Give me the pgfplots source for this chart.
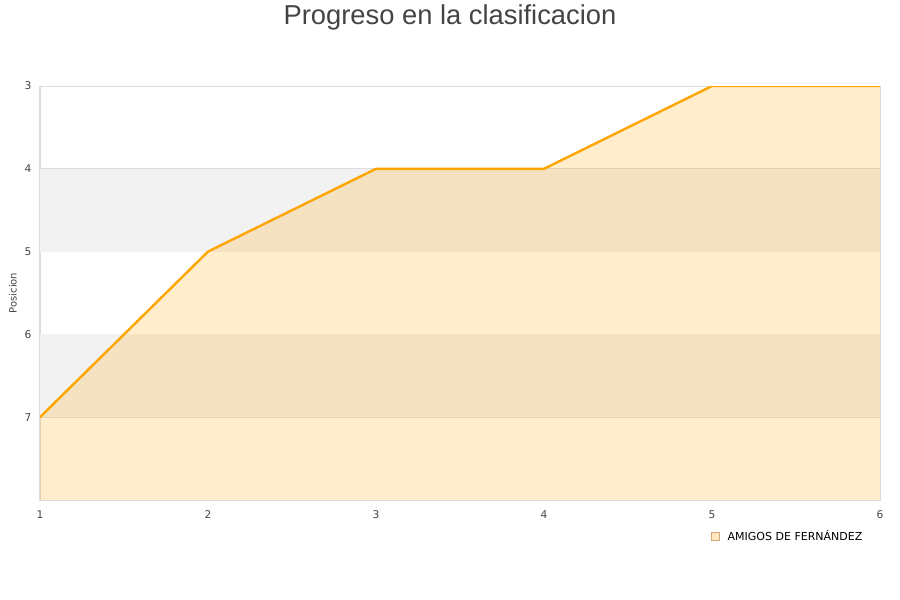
\documentclass[border=0pt]{standalone}
\usepackage{fontspec}
\setmainfont{DejaVu Sans}
\newfontfamily\titlefont{Liberation Sans}
\usepackage{pgfplots}
\pgfplotsset{compat=1.18}
\definecolor{gridc}{HTML}{DDDDDD}
\definecolor{bandc}{HTML}{F2F2F2}
\definecolor{linec}{HTML}{FFA500}
\definecolor{txt}{HTML}{444444}
\begin{document}
\begin{tikzpicture}
\path[use as bounding box] (0pt,0pt) rectangle (675pt,450pt);
\node[text=txt,font=\titlefont\fontsize{20.5}{23}\selectfont] at (337.5pt,437pt) {Progreso en la clasificacion};
\begin{axis}[
  at={(30pt,75pt)}, anchor=south west,
  scale only axis, width=630pt, height=310.5pt,
  xmin=1, xmax=6, ymin=3, ymax=8, y dir=reverse,
  xtick={1,2,3,4,5,6}, ytick={3,4,5,6,7},
  /pgf/number format/assume math mode=true,
  tick label style={font=\fontsize{8}{9}\selectfont, text=txt},
  xticklabel style={yshift=-4.5pt},
  yticklabel style={xshift=-3pt},
  major tick length=0pt,
  ymajorgrids, grid style={gridc, line width=0.75pt},
  axis line style={gridc, line width=0.75pt},
  ylabel={Posicion}, ylabel style={font=\fontsize{7.5}{9}\selectfont, text=txt, yshift=-1pt},
  legend style={at={(1,0)}, anchor=north east, xshift=-8pt, yshift=-18.5pt, draw=none, fill=none, font=\fontsize{8.25}{10}\selectfont},
  legend cell align=left,
]
\addplot[fill=bandc, draw=none, forget plot] coordinates {(1,4)(6,4)(6,5)(1,5)} -- cycle;
\addplot[fill=bandc, draw=none, forget plot] coordinates {(1,6)(6,6)(6,7)(1,7)} -- cycle;
\addplot[fill=linec, fill opacity=0.2, draw=none, forget plot] coordinates {(1,7)(2,5)(3,4)(4,4)(5,3)(6,3)(6,8)(1,8)} -- cycle;
\addplot[linec, line width=1.8pt, forget plot] coordinates {(1,7)(2,5)(3,4)(4,4)(5,3)(6,3)};
\addlegendimage{only marks, mark=square*, mark size=3pt, mark options={fill=linec!25, draw=brown!70, line width=0.4pt}}
\addlegendentry{\hspace{4pt}AMIGOS DE FERNÁNDEZ}
\end{axis}
\end{tikzpicture}
\end{document}
